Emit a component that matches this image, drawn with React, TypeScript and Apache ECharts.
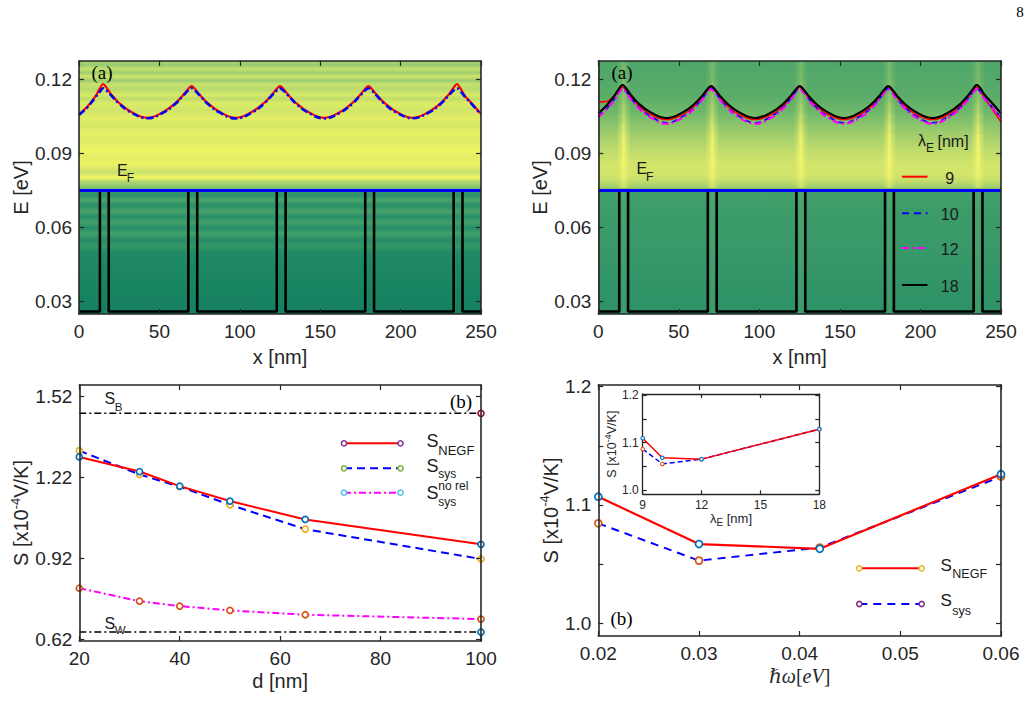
import React, { useEffect, useRef } from "react";
import * as echarts from "echarts";

// ---------------- data ----------------
// top panels: positions along the device [nm]
const posX = [0, 5, 10, 13, 15, 17, 20, 25, 32, 42.5, 53, 60, 65, 68, 70, 72, 75, 80, 87, 97.5, 108, 115, 120, 123, 125, 127, 130, 135, 142, 152.5, 163, 170, 175, 178, 180, 182, 185, 190, 197, 207.5, 218, 225, 230, 233, 235, 237, 240, 245, 250];
// panel (a) left: red solid and blue dash-dot band edges [eV]
const aRed = [0.1058, 0.1088, 0.1129, 0.1163, 0.1181, 0.1167, 0.1139, 0.1104, 0.1070, 0.1044, 0.1070, 0.1104, 0.1138, 0.1162, 0.1172, 0.1162, 0.1138, 0.1104, 0.1070, 0.1044, 0.1070, 0.1104, 0.1138, 0.1162, 0.1172, 0.1162, 0.1138, 0.1104, 0.1070, 0.1044, 0.1070, 0.1104, 0.1138, 0.1162, 0.1172, 0.1162, 0.1138, 0.1104, 0.1070, 0.1044, 0.1070, 0.1104, 0.1139, 0.1166, 0.1181, 0.1165, 0.1133, 0.1097, 0.1060];
const aBlue = [0.1056, 0.1085, 0.1125, 0.1150, 0.1164, 0.1155, 0.1135, 0.1101, 0.1067, 0.1042, 0.1067, 0.1101, 0.1135, 0.1155, 0.1164, 0.1155, 0.1135, 0.1101, 0.1067, 0.1041, 0.1067, 0.1101, 0.1135, 0.1155, 0.1164, 0.1155, 0.1135, 0.1101, 0.1067, 0.1041, 0.1067, 0.1101, 0.1135, 0.1155, 0.1164, 0.1155, 0.1135, 0.1101, 0.1067, 0.1042, 0.1067, 0.1101, 0.1135, 0.1155, 0.1164, 0.1153, 0.1130, 0.1094, 0.1058];
// panel (a) right: lambda_E = 9, 10, 12, 18 nm
const bRed = [0.1108, 0.1110, 0.1133, 0.1155, 0.1168, 0.1158, 0.1131, 0.1094, 0.1059, 0.1037, 0.1059, 0.1094, 0.1131, 0.1158, 0.1168, 0.1158, 0.1131, 0.1094, 0.1059, 0.1037, 0.1059, 0.1094, 0.1131, 0.1158, 0.1168, 0.1158, 0.1131, 0.1094, 0.1059, 0.1037, 0.1059, 0.1094, 0.1131, 0.1158, 0.1168, 0.1158, 0.1131, 0.1094, 0.1059, 0.1037, 0.1059, 0.1094, 0.1131, 0.1158, 0.1168, 0.1155, 0.1122, 0.1076, 0.1028];
const bBlue = [0.1050, 0.1080, 0.1120, 0.1150, 0.1163, 0.1153, 0.1126, 0.1088, 0.1052, 0.1024, 0.1052, 0.1088, 0.1126, 0.1153, 0.1163, 0.1153, 0.1126, 0.1088, 0.1052, 0.1024, 0.1052, 0.1088, 0.1126, 0.1153, 0.1163, 0.1153, 0.1126, 0.1088, 0.1052, 0.1024, 0.1052, 0.1088, 0.1126, 0.1153, 0.1163, 0.1153, 0.1126, 0.1088, 0.1052, 0.1024, 0.1052, 0.1088, 0.1126, 0.1153, 0.1163, 0.1151, 0.1122, 0.1084, 0.1045];
const bMag = [0.1047, 0.1077, 0.1116, 0.1147, 0.1160, 0.1150, 0.1122, 0.1084, 0.1047, 0.1020, 0.1047, 0.1084, 0.1122, 0.1150, 0.1160, 0.1150, 0.1122, 0.1084, 0.1047, 0.1020, 0.1047, 0.1084, 0.1122, 0.1150, 0.1160, 0.1150, 0.1122, 0.1084, 0.1047, 0.1020, 0.1047, 0.1084, 0.1122, 0.1150, 0.1160, 0.1150, 0.1122, 0.1084, 0.1047, 0.1020, 0.1047, 0.1084, 0.1122, 0.1150, 0.1160, 0.1148, 0.1119, 0.1081, 0.1043];
const bBlack = [0.1062, 0.1093, 0.1134, 0.1163, 0.1177, 0.1166, 0.1138, 0.1102, 0.1068, 0.1043, 0.1068, 0.1102, 0.1137, 0.1162, 0.1172, 0.1162, 0.1137, 0.1102, 0.1068, 0.1043, 0.1068, 0.1102, 0.1137, 0.1162, 0.1172, 0.1162, 0.1137, 0.1102, 0.1068, 0.1043, 0.1068, 0.1102, 0.1137, 0.1162, 0.1172, 0.1162, 0.1137, 0.1102, 0.1068, 0.1043, 0.1068, 0.1102, 0.1138, 0.1164, 0.1177, 0.1165, 0.1136, 0.1100, 0.1062];
// potential profile (black step line)
const potX = [0, 13, 13, 18.5, 18.5, 68, 68, 73.5, 73.5, 123, 123, 128.5, 128.5, 178, 178, 183.5, 183.5, 233, 233, 238.5, 238.5, 250];
const potE = [0.026, 0.026, 0.075, 0.075, 0.026, 0.026, 0.075, 0.075, 0.026, 0.026, 0.075, 0.075, 0.026, 0.026, 0.075, 0.075, 0.026, 0.026, 0.075, 0.075, 0.026, 0.026];
const barrierC = [15.75, 70.75, 125.75, 180.75, 235.75];
const fermiE = 0.075;
const eTicks = [0.03, 0.06, 0.09, 0.12];
const lamLegend = ["9", "10", "12", "18"];

// panel (b) left: S vs d
const dNm = [20, 32, 40, 50, 65, 100];
const sNegfD = [1.295, 1.241, 1.187, 1.132, 1.064, 0.972];
const sSysD = [1.318, 1.230, 1.185, 1.118, 1.028, 0.918];
const sNoRelD = [0.810, 0.762, 0.744, 0.728, 0.712, 0.696];
const sBulk = 1.456;
const sWell = 0.648;
const sTicksD = [0.62, 0.92, 1.22, 1.52];

// panel (b) right: S vs hbar omega
const hw = [0.02, 0.03, 0.042, 0.06];
const sNegfW = [1.107, 1.067, 1.063, 1.126];
const sSysW = [1.0845, 1.053, 1.064, 1.124];
// inset: S vs lambda_E
const lamE = [9, 10, 12, 18];
const sNegfL = [1.109, 1.068, 1.065, 1.128];
const sSysL = [1.086, 1.055, 1.065, 1.128];
const sTicksW = [1.0, 1.05, 1.1, 1.15, 1.2];
const sLabelsW = [1.0, 1.1, 1.2];

// ---------------- styles ----------------
const SANS = "'Liberation Sans', Arial, Helvetica, sans-serif";
const SERIF = "'Liberation Serif', 'Times New Roman', 'DejaVu Serif', serif";
const AX = "#262626";
const DASHDOT = [7, 3, 2, 3];
const C = {
  blue: "#0072BD", orange: "#D95319", yellow: "#EDB120", purple: "#7E2F8E",
  green: "#77AC30", lblue: "#4DBEEE", dred: "#A2142F",
};

const zip = (xs: number[], ys: number[]) => xs.map((x, i) => [x, ys[i]]);

const vg = (stops: [number, string][]) => ({
  type: "linear", x: 0, y: 0, x2: 0, y2: 1,
  colorStops: stops.map(([offset, color]) => ({ offset, color })),
});
const hg = (rgb: string, a: number) => ({
  type: "linear", x: 0, y: 0, x2: 1, y2: 0,
  colorStops: [
    { offset: 0, color: `rgba(${rgb},0)` },
    { offset: 0.3, color: `rgba(${rgb},${a * 0.45})` },
    { offset: 0.5, color: `rgba(${rgb},${a})` },
    { offset: 0.7, color: `rgba(${rgb},${a * 0.45})` },
    { offset: 1, color: `rgba(${rgb},0)` },
  ],
});

const TL_UP: [number, string][] = [
  [0, "#b2d670"], [0.03, "#94ca72"], [0.06, "#c6e06c"], [0.09, "#a0cf70"], [0.12, "#d0e46a"],
  [0.15, "#9ccc72"], [0.18, "#c8e26c"], [0.22, "#b8da6e"], [0.26, "#d8ea68"], [0.29, "#c0dc6c"],
  [0.33, "#dcec66"], [0.38, "#cfe46a"], [0.44, "#e2ee64"], [0.5, "#d6e868"], [0.56, "#e6f064"],
  [0.62, "#dcec66"], [0.68, "#eef462"], [0.74, "#e4ee64"], [0.8, "#eaf262"], [0.86, "#c8e06c"],
  [0.9, "#f2f466"], [0.93, "#b4d870"], [0.96, "#96ca72"], [1, "#64b470"],
];
const TL_LOW: [number, string][] = [
  [0, "#3c9c68"], [0.04, "#2a9068"], [0.08, "#4aa46a"], [0.12, "#2a9068"], [0.17, "#48a26a"],
  [0.21, "#289068"], [0.26, "#44a06a"], [0.3, "#268e66"], [0.35, "#40a06a"], [0.4, "#268c66"],
  [0.45, "#369868"], [0.5, "#228a66"], [0.6, "#1e8864"], [0.8, "#198462"], [1, "#168060"],
];
const TR_UP: [number, string][] = [
  [0, "#4ea66a"], [0.27, "#5aac68"], [0.4, "#70b86a"], [0.55, "#9ccb6c"], [0.68, "#bcda6c"],
  [0.78, "#cfe36a"], [0.86, "#d4e56a"], [0.92, "#c6df6c"], [0.96, "#aad36c"], [1, "#7cbe6c"],
];
const TR_LOW: [number, string][] = [
  [0, "#44a06a"], [0.15, "#3c9c68"], [0.5, "#38986a"], [1, "#2c9266"],
];
// streak strength bands (energy range, alpha)
const STREAK: [number, number, number][] = [
  [0.076, 0.08, 0.55], [0.08, 0.084, 0.75], [0.084, 0.098, 0.9], [0.098, 0.102, 0.75],
  [0.102, 0.106, 0.6], [0.106, 0.11, 0.48], [0.11, 0.114, 0.38], [0.114, 0.119, 0.3],
  [0.119, 0.1274, 0.24],
];

// ---------------- axes ----------------
function axis(gridIndex: number, pos: string, o: any) {
  const main = pos === "bottom" || pos === "left";
  return {
    type: "value", gridIndex, position: pos, min: o.min, max: o.max, interval: o.interval,
    z: o.z ?? 10,
    axisLine: { show: true, onZero: false, lineStyle: { color: AX, width: o.lw ?? 1.6 } },
    axisTick: { show: true, inside: true, length: o.tickLen ?? 5, lineStyle: { color: AX, width: 1.2 }, customValues: o.ticks },
    axisLabel: main
      ? { show: true, color: AX, fontSize: o.fs ?? 19, fontFamily: SANS, margin: o.margin ?? 8, customValues: o.labels, formatter: o.fmt }
      : { show: false },
    splitLine: { show: false },
    name: main ? o.name : "",
    nameLocation: "middle",
    nameGap: o.nameGap,
    nameTextStyle: o.nameStyle,
  };
}
const pair = (g: number, a: string, b: string, o: any) => [axis(g, a, o), axis(g, b, o)];

const supRich = (fs: number, sfs: number, pad: number) => ({
  a: { fontSize: fs, fontFamily: SANS, color: AX },
  sup: { fontSize: sfs, fontFamily: SANS, color: AX, padding: [0, 0, pad, 0] },
});
const subRich = (fs: number, sfs: number, pad: number) => ({
  a: { fontSize: fs, fontFamily: SANS, color: AX },
  sub: { fontSize: sfs, fontFamily: SANS, color: AX, padding: [pad, 0, 0, 0] },
});
const sName = "{a|S [x10}{sup|-4}{a|V/K]}";

const topX = { min: 0, max: 250, interval: 50, name: "x [nm]", nameGap: 33, nameStyle: { fontSize: 20, fontFamily: SANS, color: AX } };
const topY = { min: 0.025, max: 0.1274, ticks: eTicks, labels: eTicks, margin: 7, name: "E [eV]", nameGap: 45, nameStyle: { fontSize: 20, fontFamily: SANS, color: AX } };

const xAxes = [
  ...pair(0, "bottom", "top", topX),
  ...pair(1, "bottom", "top", topX),
  ...pair(2, "bottom", "top", { min: 20, max: 100, interval: 20, name: "d [nm]", nameGap: 30, nameStyle: { fontSize: 20, fontFamily: SANS, color: AX } }),
  ...pair(3, "bottom", "top", {
    min: 0.02, max: 0.06, interval: 0.01, fmt: (v: number) => v.toFixed(2),
    name: "{i|ℏω}{r|[}{i|eV}{r|]}", nameGap: 30,
    nameStyle: { fontSize: 20, fontFamily: SERIF, color: AX, rich: { i: { fontSize: 20, fontFamily: SERIF, fontStyle: "italic", color: AX }, r: { fontSize: 20, fontFamily: SERIF, color: AX } } },
  }),
  ...pair(4, "bottom", "top", {
    min: 9, max: 18, interval: 3, fs: 12, margin: 5, lw: 1.3, tickLen: 4, z: 12,
    name: "{a|λ}{sub|E}{a| [nm]}", nameGap: 14, nameStyle: { fontSize: 13, fontFamily: SANS, color: AX, rich: subRich(13, 10, 8) },
  }),
];
const yAxes = [
  ...pair(0, "left", "right", topY),
  ...pair(1, "left", "right", topY),
  ...pair(2, "left", "right", {
    min: 0.615, max: 1.5607, ticks: sTicksD, labels: sTicksD, margin: 7,
    name: sName, nameGap: 44, nameStyle: { fontSize: 20, fontFamily: SANS, color: AX, rich: supRich(20, 13, 12) },
  }),
  ...pair(3, "left", "right", {
    min: 0.9893, max: 1.2014, ticks: sTicksW, labels: sLabelsW, margin: 7, fmt: (v: number) => v.toFixed(1),
    name: sName, nameGap: 34, nameStyle: { fontSize: 20, fontFamily: SANS, color: AX, rich: supRich(20, 13, 12) },
  }),
  ...pair(4, "left", "right", {
    min: 0.991, max: 1.2021, ticks: sTicksW, labels: sLabelsW, fs: 12, margin: 4, lw: 1.3, tickLen: 4, z: 12,
    fmt: (v: number) => v.toFixed(1),
    name: sName, nameGap: 20, nameStyle: { fontSize: 12.5, fontFamily: SANS, color: AX, rich: supRich(12.5, 9, 8) },
  }),
];

// ---------------- series ----------------
const bgSeries = (xi: number, areas: any[]) => ({
  type: "line", xAxisIndex: xi, yAxisIndex: xi, z: 1, silent: true,
  data: [[0, 0.05]], symbol: "none", lineStyle: { opacity: 0 },
  markArea: { silent: true, label: { show: false }, data: areas },
});
const rect = (x0: number, y0: number, x1: number, y1: number, color: any) => [
  { xAxis: x0, yAxis: y1, itemStyle: { color, borderWidth: 0 } },
  { xAxis: x1, yAxis: y0 },
];
const curve = (xi: number, ys: number[], color: string, width: number, type: any, z = 4) => ({
  type: "line", xAxisIndex: xi, yAxisIndex: xi, z, silent: true,
  data: zip(posX, ys), symbol: "none", smooth: 0.4,
  lineStyle: { color, width, type },
});
const potential = (xi: number) => ({
  type: "line", xAxisIndex: xi, yAxisIndex: xi, z: 3, silent: true,
  data: zip(potX, potE), symbol: "none", lineStyle: { color: "#000", width: 2.6 },
});
const fermi = (xi: number) => ({
  type: "line", xAxisIndex: xi, yAxisIndex: xi, z: 6, silent: true,
  data: [[0, fermiE], [250, fermiE]], symbol: "none", lineStyle: { color: "#0000ff", width: 3 },
});
const pts = (xi: number, xs: number[], ys: number[], color: string, width: number, type: any, mark: string, size: number, z = 4) => ({
  type: "line", xAxisIndex: xi, yAxisIndex: xi, z, silent: true,
  data: zip(xs, ys), symbol: "circle", symbolSize: size, showSymbol: true,
  lineStyle: { color, width, type },
  itemStyle: { color: "#ffffff", borderColor: mark, borderWidth: size > 4 ? 1.7 : 1.1 },
});
const level = (v: number, mark: string) => ({
  type: "line", xAxisIndex: 4, yAxisIndex: 4, z: 3, silent: true,
  data: [{ value: [20, v], symbol: "none" }, { value: [100, v] }],
  symbol: "circle", symbolSize: 6, showSymbol: true,
  lineStyle: { color: "#000", width: 1.5, type: DASHDOT },
  itemStyle: { color: "#ffffff", borderColor: mark, borderWidth: 1.7 },
});

const series: any[] = [
  // (a) left
  bgSeries(0, [rect(0, fermiE, 250, 0.1274, vg(TL_UP)), rect(0, 0.025, 250, fermiE, vg(TL_LOW))]),
  potential(0),
  curve(0, aRed, "#ff0000", 2.2, "solid"),
  curve(0, aBlue, "#0000ff", 2.6, DASHDOT, 5),
  fermi(0),
  // (a) right
  bgSeries(2, [
    rect(0, fermiE, 250, 0.1274, vg(TR_UP)),
    rect(0, 0.025, 250, fermiE, vg(TR_LOW)),
    ...barrierC.flatMap((c) => STREAK.map(([e0, e1, a]) => rect(c - 4.5, e0, c + 4.5, e1, hg("248,248,108", a)))),
    ...barrierC.map((c) => rect(c - 4, 0.025, c + 4, fermiE, hg("120,190,120", 0.25))),
  ]),
  potential(2),
  curve(2, bRed, "#ff0000", 1.6, "solid"),
  curve(2, bBlue, "#0000ff", 1.6, [6, 4]),
  curve(2, bMag, "#ff00ff", 2.2, DASHDOT),
  curve(2, bBlack, "#000000", 2.2, "solid", 5),
  fermi(2),
  // (b) left
  level(sBulk, C.dred),
  level(sWell, C.blue),
  pts(4, dNm, sNoRelD, "#ff00ff", 2, DASHDOT, C.orange, 6),
  pts(4, dNm, sSysD, "#0000ff", 2, [8, 5], C.yellow, 6),
  pts(4, dNm, sNegfD, "#ff0000", 2, "solid", C.blue, 6, 5),
  // (b) right
  pts(6, hw, sSysW, "#0000ff", 2, [8, 6], C.orange, 7),
  pts(6, hw, sNegfW, "#ff0000", 2.2, "solid", C.blue, 7, 5),
  // inset
  pts(8, lamE, sSysL, "#0000ff", 1.5, [5, 3], C.orange, 3.5, 13),
  pts(8, lamE, sNegfL, "#ff0000", 1.5, "solid", C.blue, 3.5, 14),
];

// ---------------- annotations / legends ----------------
const T = (x: number, y: number, text: string, size: number, family = SANS, align = "left", fill = "#1a1a1a") => ({
  type: "text", x, y, z: 100, silent: true,
  style: { text, fill, fontSize: size, fontFamily: family, align, verticalAlign: "middle", textAlign: align, textVerticalAlign: "middle" },
});
const L = (x1: number, y1: number, x2: number, y2: number, stroke: string, lineWidth: number, lineDash?: number[]) => ({
  type: "line", z: 100, silent: true, shape: { x1, y1, x2, y2 }, style: { stroke, lineWidth, lineDash },
});
const O = (cx: number, cy: number, stroke: string) => ({
  type: "circle", z: 101, silent: true, shape: { cx, cy, r: 2.6 }, style: { fill: "#ffffff", stroke, lineWidth: 1.5 },
});

const lamColors = ["#ff0000", "#0000ff", "#ff00ff", "#000000"];
const lamDash = [undefined, [7, 5], DASHDOT, undefined];
const lamY = [176.7, 213.3, 248, 285];

const graphic: any[] = [
  T(1020, 12, "8", 15, SERIF, "center", "#000"),
  // (a) left
  T(91.5, 72.7, "(a)", 19, SERIF, "left", "#000"),
  T(117, 170, "E", 16), T(126.7, 178.3, "F", 12),
  // (a) right
  T(611.5, 72.7, "(a)", 19, SERIF, "left", "#000"),
  T(636.5, 168.3, "E", 16), T(646, 176.7, "F", 12),
  T(918, 140, "λ", 16), T(926, 148.3, "E", 12), T(937.5, 141.7, "[nm]", 16),
  ...lamLegend.flatMap((lab, i) => [
    L(902, lamY[i], 927.5, lamY[i], lamColors[i], 2, lamDash[i] as any),
    T(949.7, lamY[i] + 1.5, lab, 16, SANS, "center"),
  ]),
  // (b) left
  T(104.5, 398.3, "S", 16), T(114.8, 406.5, "B", 11.5),
  T(104.5, 623.3, "S", 16), T(114.8, 629.5, "W", 11.5),
  T(450, 401.7, "(b)", 19, SERIF, "left", "#000"),
  L(344, 443.3, 400.5, 443.3, "#ff0000", 2), O(344, 443.3, C.purple), O(400.5, 443.3, C.purple),
  L(344, 468.3, 400.5, 468.3, "#0000ff", 2, [8, 5]), O(344, 468.3, C.green), O(400.5, 468.3, C.green),
  L(344, 492.7, 400.5, 492.7, "#ff00ff", 2, DASHDOT), O(344, 492.7, C.lblue), O(400.5, 492.7, C.lblue),
  T(426.5, 440.5, "S", 18), T(438.3, 450.7, "NEGF", 13),
  T(426.5, 465.5, "S", 18), T(438.3, 473.8, "sys", 12),
  T(426.5, 492.6, "S", 18), T(438.3, 486.2, "no rel", 12), T(438.3, 501.8, "sys", 12),
  // (b) right
  T(610.5, 618.3, "(b)", 19, SERIF, "left", "#000"),
  L(859.3, 568.3, 921.7, 568.3, "#ff0000", 2), O(859.3, 568.3, C.yellow), O(921.7, 568.3, C.yellow),
  L(859.3, 604, 921.7, 604, "#0000ff", 2, [8, 6]), O(859.3, 604, C.purple), O(921.7, 604, C.purple),
  T(940.5, 565.8, "S", 17), T(952.3, 574.3, "NEGF", 12.5),
  T(940.5, 600.8, "S", 17), T(952.3, 610.8, "sys", 12.5),
];

const option: any = {
  animation: false,
  backgroundColor: "#ffffff",
  grid: [
    { left: 79, top: 61, width: 402, height: 253, containLabel: false, outerBoundsMode: "none" },
    { left: 598.3, top: 61, width: 402.7, height: 253, containLabel: false, outerBoundsMode: "none" },
    { left: 79.3, top: 385, width: 401.7, height: 256, containLabel: false, outerBoundsMode: "none" },
    { left: 598.3, top: 385, width: 402.7, height: 251, containLabel: false, outerBoundsMode: "none" },
    { left: 642.7, top: 394, width: 176.6, height: 100.3, containLabel: false, outerBoundsMode: "none", show: true, backgroundColor: "#ffffff", borderWidth: 0, z: 8 },
  ],
  xAxis: xAxes,
  yAxis: yAxes,
  series,
  graphic,
};

export default function App() {
  const ref = useRef<HTMLDivElement>(null);
  useEffect(() => {
    document.body.style.margin = "0";
    const chart = echarts.init(ref.current as HTMLDivElement, null, { renderer: "svg" });
    chart.setOption(option);
    return () => chart.dispose();
  }, []);
  return <div ref={ref} style={{ position: "absolute", left: 0, top: 0, width: 1032, height: 702, background: "#fff" }} />;
}
